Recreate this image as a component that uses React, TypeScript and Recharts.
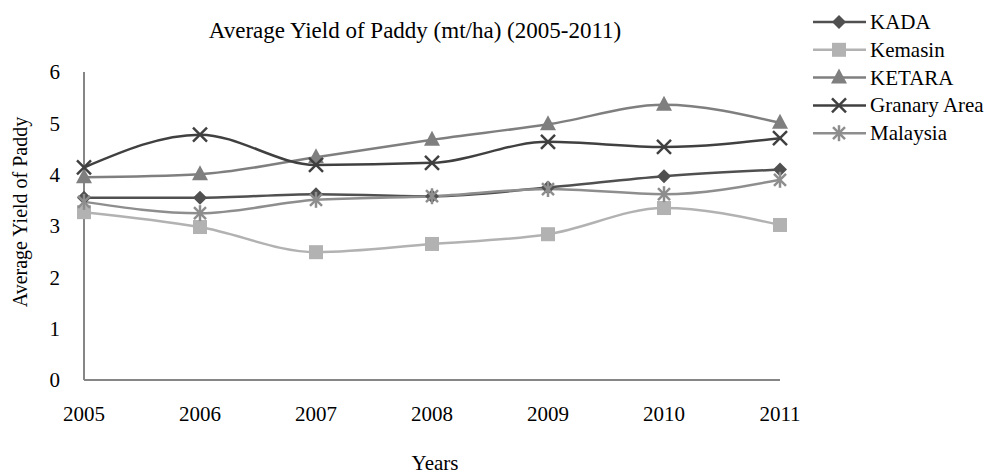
import React from 'react';
import { Line, LineChart, XAxis, YAxis } from 'recharts';

const years = ['2005', '2006', '2007', '2008', '2009', '2010', '2011'];
const kada = [3.55, 3.55, 3.62, 3.58, 3.75, 3.97, 4.1];
const kemasin = [3.27, 2.98, 2.49, 2.65, 2.84, 3.35, 3.02];
const ketara = [3.95, 4.01, 4.34, 4.68, 4.98, 5.36, 5.01];
const granary = [4.14, 4.78, 4.19, 4.23, 4.64, 4.54, 4.71];
const malaysia = [3.47, 3.25, 3.51, 3.58, 3.72, 3.62, 3.9];
const yTicks = [0, 1, 2, 3, 4, 5, 6];

const FONT = 'Liberation Serif, Times New Roman, serif';

type Shape = 'diamond' | 'square' | 'triangle' | 'x' | 'star';

const seriesList: { key: string; name: string; color: string; shape: Shape }[] = [
  { key: 'kada', name: 'KADA', color: '#505050', shape: 'diamond' },
  { key: 'kemasin', name: 'Kemasin', color: '#b2b2b2', shape: 'square' },
  { key: 'ketara', name: 'KETARA', color: '#7f7f7f', shape: 'triangle' },
  { key: 'granary', name: 'Granary Area', color: '#404040', shape: 'x' },
  { key: 'malaysia', name: 'Malaysia', color: '#8e8e8e', shape: 'star' }
];

const data = years.map((year, i) => ({
  year,
  kada: kada[i],
  kemasin: kemasin[i],
  ketara: ketara[i],
  granary: granary[i],
  malaysia: malaysia[i]
}));

const Marker = ({ shape, cx, cy, color }: { shape: Shape; cx: number; cy: number; color: string }) => {
  switch (shape) {
    case 'diamond':
      return <polygon points={`${cx},${cy - 7} ${cx + 7},${cy} ${cx},${cy + 7} ${cx - 7},${cy}`} fill={color} />;
    case 'square':
      return <rect x={cx - 7} y={cy - 7} width={14} height={14} fill={color} />;
    case 'triangle':
      return <polygon points={`${cx},${cy - 9} ${cx + 8},${cy + 6} ${cx - 8},${cy + 6}`} fill={color} />;
    case 'x':
      return (
        <g stroke={color} strokeWidth={2.5}>
          <line x1={cx - 7} y1={cy - 7} x2={cx + 7} y2={cy + 7} />
          <line x1={cx - 7} y1={cy + 7} x2={cx + 7} y2={cy - 7} />
        </g>
      );
    default:
      return (
        <g stroke={color} strokeWidth={2.5}>
          <line x1={cx - 6} y1={cy - 6} x2={cx + 6} y2={cy + 6} />
          <line x1={cx - 6} y1={cy + 6} x2={cx + 6} y2={cy - 6} />
          <line x1={cx} y1={cy - 8} x2={cx} y2={cy + 8} />
        </g>
      );
  }
};

// legend drawn as an overlay so it does not eat plot width
const LegendBox = () => (
  <svg width={182} height={150} style={{ position: 'absolute', left: 805, top: 0 }}>
    {seriesList.map((s, i) => {
      const y = 22 + i * 27.8;
      return (
        <g key={s.key}>
          <line x1={8} y1={y} x2={61} y2={y} stroke={s.color} strokeWidth={2.5} />
          <Marker shape={s.shape} cx={34} cy={y} color={s.color} />
          <text x={65} y={y + 7} fontFamily={FONT} fontSize={21} fill="#000">
            {s.name}
          </text>
        </g>
      );
    })}
  </svg>
);

const overlay: React.CSSProperties = {
  position: 'absolute',
  fontFamily: FONT,
  color: '#000',
  whiteSpace: 'nowrap',
  lineHeight: 1
};

export default function App() {
  return (
    <div style={{ position: 'fixed', left: 0, top: 0, width: 987, height: 476, background: '#fff' }}>
      <LineChart width={987} height={476} data={data} margin={{ top: 72, right: 207, left: 0, bottom: 0 }}>
        <XAxis
          dataKey="year"
          height={96}
          axisLine={{ stroke: '#868686', strokeWidth: 2 }}
          tickLine={false}
          tickMargin={20}
          tick={{ fill: '#000', fontSize: 21, fontFamily: FONT }}
          interval={0}
        />
        <YAxis
          width={84}
          domain={[0, 6]}
          ticks={yTicks}
          axisLine={{ stroke: '#868686', strokeWidth: 2 }}
          tickLine={false}
          tickMargin={18}
          tick={{ fill: '#000', fontSize: 21, fontFamily: FONT }}
        />
        {seriesList.map((s) => (
          <Line
            key={s.key}
            type="monotone"
            dataKey={s.key}
            name={s.name}
            stroke={s.color}
            strokeWidth={2.5}
            isAnimationActive={false}
            dot={(p: any) => <Marker key={`${s.key}-${p.index}`} shape={s.shape} cx={p.cx} cy={p.cy} color={s.color} />}
            activeDot={false}
          />
        ))}
      </LineChart>
      <LegendBox />
      <div style={{ ...overlay, fontSize: 23, left: 415, top: 30, transform: 'translate(-50%, -50%)' }}>
        Average Yield of Paddy (mt/ha) (2005-2011)
      </div>
      <div style={{ ...overlay, fontSize: 21, left: 435, top: 463, transform: 'translate(-50%, -50%)' }}>Years</div>
      <div
        style={{
          ...overlay,
          fontSize: 20,
          left: 20,
          top: 212,
          transform: 'translate(-50%, -50%) rotate(-90deg)'
        }}
      >
        Average Yield of Paddy
      </div>
    </div>
  );
}
